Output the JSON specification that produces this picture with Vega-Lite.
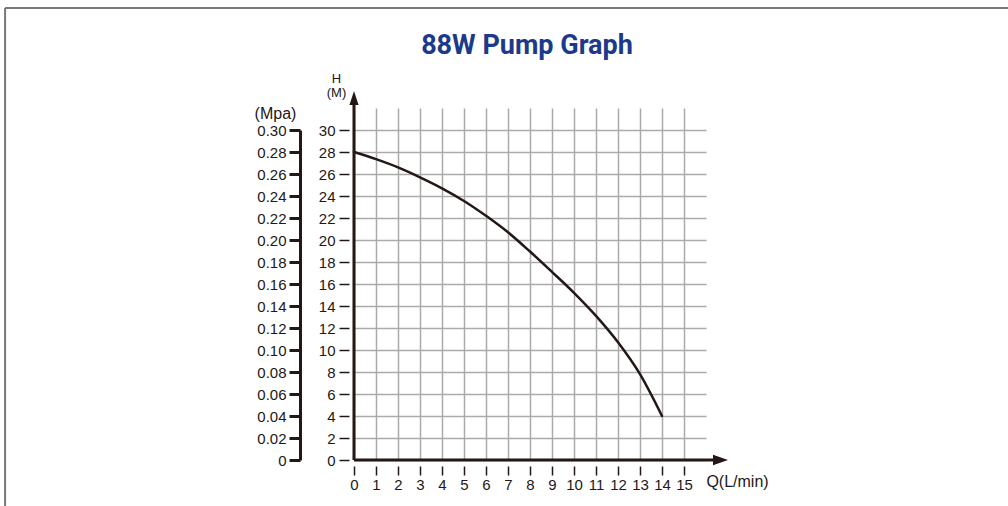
{
  "$schema": "https://vega.github.io/schema/vega-lite/v6.json",
  "width": 352,
  "height": 352,
  "autosize": "none",
  "padding": {"left": 354, "top": 108, "right": 302, "bottom": 46},
  "background": "white",
  "config": {
    "view": {"stroke": null},
    "font": "Liberation Sans"
  },
  "title": {
    "text": "88W Pump Graph",
    "font": "Roboto",
    "fontSize": 27,
    "fontWeight": "bold",
    "color": "#1b3a8c",
    "anchor": "middle",
    "frame": "group",
    "dx": -3,
    "dy": 57
  },
  "datasets": {
    "pump": [
      {"q": 0, "h": 28.0},
      {"q": 1, "h": 27.35},
      {"q": 2, "h": 26.6},
      {"q": 3, "h": 25.7},
      {"q": 4, "h": 24.7},
      {"q": 5, "h": 23.55},
      {"q": 6, "h": 22.2},
      {"q": 7, "h": 20.7},
      {"q": 8, "h": 18.95},
      {"q": 9, "h": 17.1},
      {"q": 10, "h": 15.2},
      {"q": 11, "h": 13.1},
      {"q": 12, "h": 10.7},
      {"q": 13, "h": 7.8},
      {"q": 14, "h": 4.0}
    ],
    "one": [{"k": 1}]
  },
  "resolve": {"scale": {"x": "independent", "y": "independent"}},
  "layer": [
    {
      "data": {"name": "pump"},
      "mark": {"type": "line", "color": "#231815", "strokeWidth": 2.5, "interpolate": "monotone", "strokeCap": "round"},
      "encoding": {
        "x": {
          "field": "q", "type": "quantitative",
          "scale": {"domain": [0, 16], "nice": false, "zero": false},
          "axis": {
            "values": [0,1,2,3,4,5,6,7,8,9,10,11,12,13,14,15],
            "grid": true, "gridColor": "#aaaaaa", "gridWidth": 1.5,
            "domain": false, "offset": 6, "tickSize": 9, "tickWidth": 1.5, "tickColor": "#231815",
            "labelFont": "Liberation Sans", "labelFontSize": 15, "labelColor": "#231815", "labelPadding": 2,
            "labelFlush": false, "labelOverlap": false,
            "title": "Q(L/min)", "titleFont": "Liberation Sans", "titleFontSize": 16, "titleFontWeight": "normal",
            "titleColor": "#231815", "titleX": 383, "titleY": 15, "titleAlign": "center", "titleBaseline": "middle", "titleAngle": 0
          }
        },
        "y": {
          "field": "h", "type": "quantitative",
          "scale": {"domain": [0, 32], "nice": false, "zero": false},
          "axis": {
            "orient": "left",
            "values": [0,2,4,6,8,10,12,14,16,18,20,22,24,26,28,30],
            "grid": true, "gridColor": "#aaaaaa", "gridWidth": 1.5,
            "domain": false, "offset": 5, "tickSize": 10, "tickWidth": 1.5, "tickColor": "#231815",
            "labelFont": "Liberation Sans", "labelFontSize": 15, "labelColor": "#231815", "labelPadding": 4,
            "labelOverlap": false, "labelFlush": false,
            "title": ["H", "(M)"], "titleFont": "Liberation Sans", "titleFontSize": 13, "titleFontWeight": "normal",
            "titleColor": "#231815", "titleAngle": 0, "titleAlign": "center", "titleBaseline": "bottom",
            "titleX": -13, "titleY": -23, "titleLineHeight": 14
          }
        }
      }
    },
    {
      "data": {"name": "one"},
      "mark": {"type": "point", "opacity": 0},
      "encoding": {
        "x": {"datum": 0, "type": "quantitative", "scale": {"domain": [0, 16], "nice": false, "zero": false}, "axis": null},
        "y": {
          "datum": 0, "type": "quantitative",
          "scale": {"domain": [0, 0.3], "range": [352, 22], "nice": false, "zero": false},
          "axis": {
            "orient": "left",
            "values": [0,0.02,0.04,0.06,0.08,0.1,0.12,0.14,0.16,0.18,0.2,0.22,0.24,0.26,0.28,0.3],
            "labelExpr": "datum.value == 0 ? '0' : format(datum.value, '.2f')",
            "grid": false, "domain": true, "domainColor": "#231815", "domainWidth": 3,
            "offset": 54, "tickSize": 11, "tickWidth": 3, "tickColor": "#231815",
            "labelFont": "Liberation Sans", "labelFontSize": 15, "labelColor": "#231815", "labelPadding": 3,
            "labelOverlap": false, "labelFlush": false,
            "title": "(Mpa)", "titleFont": "Liberation Sans", "titleFontSize": 16, "titleFontWeight": "normal",
            "titleColor": "#231815", "titleAngle": 0, "titleAlign": "center", "titleBaseline": "middle",
            "titleX": -25, "titleY": 5
          }
        }
      }
    },
    {
      "data": {"name": "one"},
      "mark": {"type": "rule", "color": "#231815", "strokeWidth": 3},
      "encoding": {
        "x": {"datum": 0, "type": "quantitative", "scale": {"domain": [0, 16], "nice": false, "zero": false}, "axis": null},
        "x2": {"datum": 16.66},
        "y": {"datum": 0, "type": "quantitative", "scale": {"domain": [0, 32], "nice": false, "zero": false}, "axis": null}
      }
    },
    {
      "data": {"name": "one"},
      "mark": {"type": "rule", "color": "#231815", "strokeWidth": 3},
      "encoding": {
        "x": {"datum": 0, "type": "quantitative", "scale": {"domain": [0, 16], "nice": false, "zero": false}, "axis": null},
        "y": {"datum": 0, "type": "quantitative", "scale": {"domain": [0, 32], "nice": false, "zero": false}, "axis": null},
        "y2": {"datum": 32.9}
      }
    },
    {
      "data": {"name": "one"},
      "mark": {"type": "point", "shape": "M-1,-0.7L1,0L-1,0.7Z", "filled": true, "color": "#231815", "opacity": 1, "size": 225, "strokeWidth": 0},
      "encoding": {
        "x": {"datum": 16.66, "type": "quantitative", "scale": {"domain": [0, 16], "nice": false, "zero": false}, "axis": null},
        "y": {"datum": 0, "type": "quantitative", "scale": {"domain": [0, 32], "nice": false, "zero": false}, "axis": null}
      }
    },
    {
      "data": {"name": "one"},
      "mark": {"type": "point", "shape": "M-0.65,1L0,-1L0.65,1Z", "filled": true, "color": "#231815", "opacity": 1, "size": 196, "strokeWidth": 0},
      "encoding": {
        "x": {"datum": 0, "type": "quantitative", "scale": {"domain": [0, 16], "nice": false, "zero": false}, "axis": null},
        "y": {"datum": 32.9, "type": "quantitative", "scale": {"domain": [0, 32], "nice": false, "zero": false}, "axis": null}
      }
    },
    {
      "data": {"name": "one"},
      "mark": {"type": "rule", "color": "#777777", "strokeWidth": 2},
      "encoding": {
        "x": {"datum": -15.86, "type": "quantitative", "scale": {"domain": [0, 16], "nice": false, "zero": false}, "axis": null},
        "x2": {"datum": 30},
        "y": {"datum": 41.1, "type": "quantitative", "scale": {"domain": [0, 32], "nice": false, "zero": false}, "axis": null}
      }
    },
    {
      "data": {"name": "one"},
      "mark": {"type": "rule", "color": "#777777", "strokeWidth": 2},
      "encoding": {
        "x": {"datum": -15.86, "type": "quantitative", "scale": {"domain": [0, 16], "nice": false, "zero": false}, "axis": null},
        "y": {"datum": -5, "type": "quantitative", "scale": {"domain": [0, 32], "nice": false, "zero": false}, "axis": null},
        "y2": {"datum": 41.1}
      }
    }
  ]
}
